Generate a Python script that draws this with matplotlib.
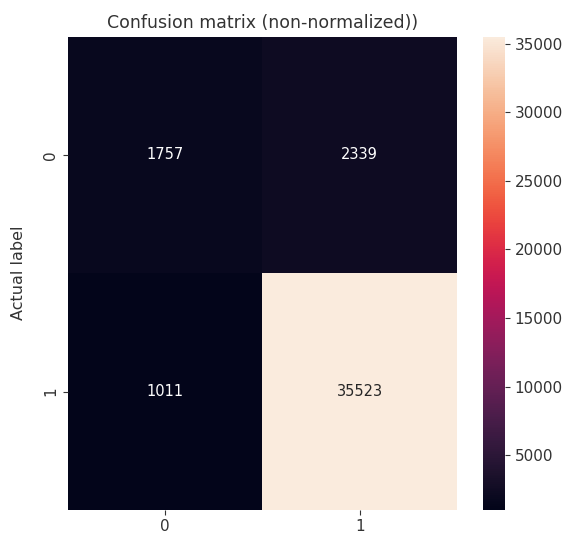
import matplotlib
matplotlib.use("Agg")
import matplotlib.pyplot as plt
import seaborn as sns
import numpy as np

labels = ["0", "1"]
cm_values = [[1757, 2339],
             [1011, 35523]]

cm = np.array(cm_values)

fig = plt.figure(figsize=(5.75, 5.4), dpi=100)
ax = fig.add_axes([0.118, 0.056, 0.677, 0.876])
cax = fig.add_axes([0.840, 0.056, 0.038, 0.876])
sns.heatmap(cm, annot=True, fmt="d", cmap="rocket", ax=ax, cbar_ax=cax,
            xticklabels=labels, yticklabels=labels,
            annot_kws={"fontsize": 10.5})
ax.set_title("Confusion matrix (non-normalized))", fontsize=12.5, color="#333333")
ax.set_ylabel("Actual label", fontsize=11.5, color="#333333", labelpad=12)
ax.tick_params(labelsize=11, colors="#333333")
cax.tick_params(labelsize=11, colors="#333333")
fig.savefig("out.png", dpi=100)
